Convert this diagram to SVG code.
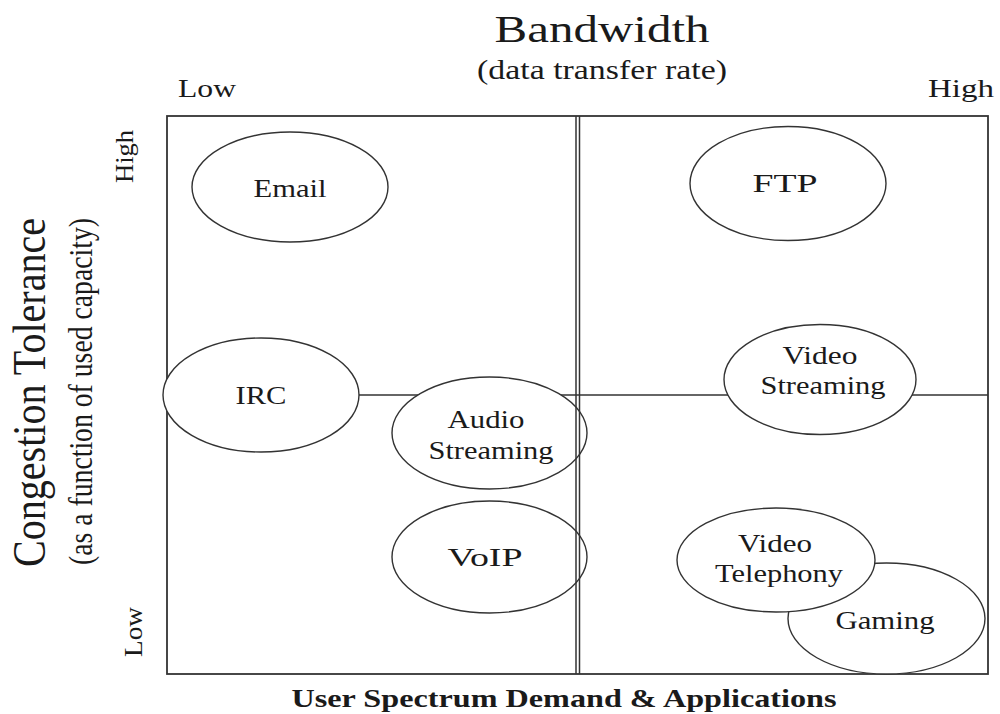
<svg xmlns="http://www.w3.org/2000/svg" width="1000" height="714" viewBox="0 0 1000 714">
<style>
text { font-family: "Liberation Serif", "Times New Roman", serif; fill: #1a1a1a; }
.lbl { font-size: 25px; text-anchor: middle; }
.node ellipse { fill: #ffffff; stroke: #333333; stroke-width: 1.4; }
.frame { fill: none; stroke: #333333; stroke-width: 1.8; }
.grid { stroke: #333333; stroke-width: 1.5; fill: none; }
</style>
<rect x="0" y="0" width="1000" height="714" fill="#ffffff"/>

<g id="titles">
  <text x="602" y="42" style="font-size:38px" text-anchor="middle" textLength="215" lengthAdjust="spacingAndGlyphs">Bandwidth</text>
  <text x="602" y="79" style="font-size:28px" text-anchor="middle" textLength="250" lengthAdjust="spacingAndGlyphs">(data transfer rate)</text>
  <text x="178" y="97" style="font-size:26px" textLength="58" lengthAdjust="spacingAndGlyphs">Low</text>
  <text x="928" y="97" style="font-size:26px" textLength="66" lengthAdjust="spacingAndGlyphs">High</text>
  <text x="564" y="707" style="font-size:25px;font-weight:bold" text-anchor="middle" textLength="545" lengthAdjust="spacingAndGlyphs">User Spectrum Demand &amp; Applications</text>
  <text transform="translate(45,567) rotate(-90)" style="font-size:47px" textLength="349" lengthAdjust="spacingAndGlyphs">Congestion Tolerance</text>
  <text transform="translate(92,565) rotate(-90)" style="font-size:34px" textLength="347" lengthAdjust="spacingAndGlyphs">(as a function of used capacity)</text>
  <text transform="translate(133,183) rotate(-90)" style="font-size:25px" textLength="53" lengthAdjust="spacingAndGlyphs">High</text>
  <text transform="translate(142,657) rotate(-90)" style="font-size:26px" textLength="50" lengthAdjust="spacingAndGlyphs">Low</text>
</g>

<g id="connectors">
  <rect class="frame" x="167" y="116" width="821" height="558"/>
  <line class="grid" x1="167" y1="395" x2="563" y2="395"/>
</g>

<g id="node-email" class="node">
  <ellipse cx="290" cy="187" rx="98" ry="55"/>
  <text class="lbl" x="290" y="197" textLength="73" lengthAdjust="spacingAndGlyphs">Email</text>
</g>
<g id="node-ftp" class="node">
  <ellipse cx="788" cy="183.5" rx="98" ry="57"/>
  <text class="lbl" x="785" y="192" textLength="65" lengthAdjust="spacingAndGlyphs">FTP</text>
</g>
<g id="node-irc" class="node">
  <ellipse cx="261" cy="395" rx="98" ry="57"/>
  <text class="lbl" x="261" y="404" textLength="51" lengthAdjust="spacingAndGlyphs">IRC</text>
</g>
<g id="node-audio" class="node">
  <ellipse cx="489.5" cy="433" rx="97.5" ry="56"/>
  <text class="lbl" x="486" y="428" textLength="77" lengthAdjust="spacingAndGlyphs">Audio</text>
  <text class="lbl" x="491" y="459" textLength="125" lengthAdjust="spacingAndGlyphs">Streaming</text>
</g>
<g id="node-voip" class="node">
  <ellipse cx="489.5" cy="557" rx="97.5" ry="56"/>
  <text class="lbl" x="485" y="566" textLength="75" lengthAdjust="spacingAndGlyphs">VoIP</text>
</g>

<g id="connectors-top">
  <line class="grid" x1="576" y1="116" x2="576" y2="674"/>
  <line class="grid" x1="579.5" y1="116" x2="579.5" y2="674"/>
  <line class="grid" x1="563" y1="395" x2="988" y2="395"/>
</g>

<g id="node-video-streaming" class="node">
  <ellipse cx="820" cy="379.5" rx="96" ry="55"/>
  <text class="lbl" x="820" y="364" textLength="75" lengthAdjust="spacingAndGlyphs">Video</text>
  <text class="lbl" x="823" y="394" textLength="125" lengthAdjust="spacingAndGlyphs">Streaming</text>
</g>
<g id="node-gaming" class="node">
  <ellipse cx="886.5" cy="618.5" rx="98.5" ry="55.5"/>
  <text class="lbl" x="885" y="629" textLength="99" lengthAdjust="spacingAndGlyphs">Gaming</text>
</g>
<g id="node-video-telephony" class="node">
  <ellipse cx="776" cy="560" rx="99" ry="52"/>
  <text class="lbl" x="775" y="552" textLength="74" lengthAdjust="spacingAndGlyphs">Video</text>
  <text class="lbl" x="779" y="582" textLength="128" lengthAdjust="spacingAndGlyphs">Telephony</text>
</g>
</svg>
